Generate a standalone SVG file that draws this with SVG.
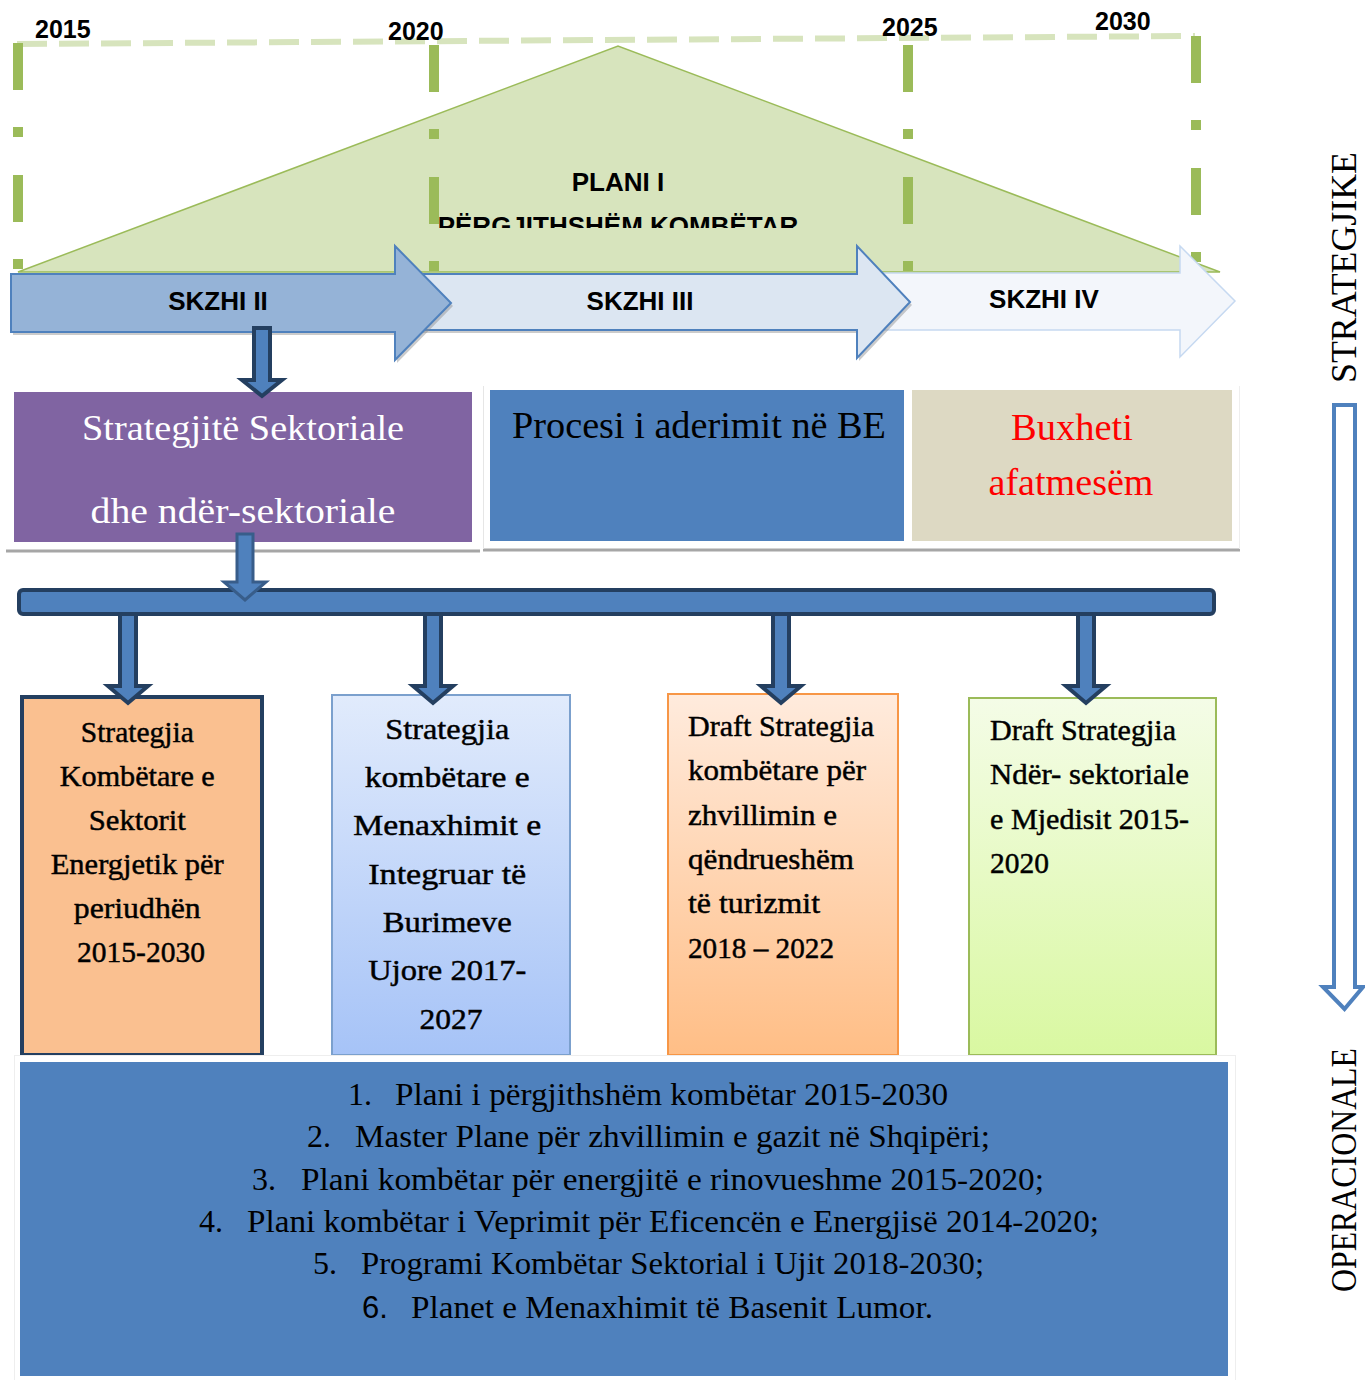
<svg xmlns="http://www.w3.org/2000/svg" width="1365" height="1380" viewBox="0 0 1365 1380">
<defs>
<style>
.yr{font-family:"Liberation Sans",Arial,sans-serif;font-weight:bold;font-size:25px;fill:#000}
.sk{font-family:"Liberation Sans",Arial,sans-serif;font-weight:bold;font-size:26px;fill:#000;text-anchor:middle}
.sf{font-family:"Liberation Serif","Times New Roman",serif}
.bx{font-family:"Liberation Serif","Times New Roman",serif;font-size:30px;fill:#000;stroke:#000;stroke-width:0.45}
.ls{font-family:"Liberation Serif","Times New Roman",serif;font-size:32px;fill:#000}
.vd{fill:none;stroke:#9BBB59;stroke-width:10;stroke-dasharray:47 37 10 38}
.dn{fill:#4F81BD;stroke:#243F60;stroke-width:4;stroke-linejoin:miter}
</style>
<linearGradient id="gB" x1="0" y1="0" x2="0" y2="1"><stop offset="0" stop-color="#E1EBFC"/><stop offset="1" stop-color="#A6C3F7"/></linearGradient>
<linearGradient id="gC" x1="0" y1="0" x2="0" y2="1"><stop offset="0" stop-color="#FFEBDD"/><stop offset="1" stop-color="#FFBE86"/></linearGradient>
<linearGradient id="gD" x1="0" y1="0" x2="0" y2="1"><stop offset="0" stop-color="#F4FCE7"/><stop offset="1" stop-color="#D9F8A1"/></linearGradient>
<clipPath id="clipPlan"><rect x="0" y="0" width="1365" height="228"/></clipPath>
</defs>
<rect width="1365" height="1380" fill="#fff"/>

<g id="timeline">
<line x1="17" y1="44" x2="1195" y2="36" stroke="#D7E4BD" stroke-width="6" stroke-dasharray="30 12"/>
</g>

<g id="plan-triangle">
<polygon points="18,272 618,46 1220,272" fill="#D7E4BD" stroke="#9BBB59" stroke-width="1.5"/>
<g clip-path="url(#clipPlan)">
<text class="sk" x="618" y="191">PLANI I</text>
<text class="sk" x="618" y="235">PËRGJITHSHËM KOMBËTAR</text>
</g>
</g>

<g id="timeline-marks">
<line class="vd" x1="18" y1="43" x2="18" y2="272"/>
<line class="vd" x1="434" y1="45" x2="434" y2="272"/>
<line class="vd" x1="908" y1="45" x2="908" y2="272"/>
<line class="vd" x1="1196" y1="36" x2="1196" y2="272"/>
<text class="yr" x="35" y="38">2015</text>
<text class="yr" x="388" y="40">2020</text>
<text class="yr" x="882" y="36">2025</text>
<text class="yr" x="1095" y="30">2030</text>
</g>

<g id="skzhi4">
<polygon points="880,273 1180,273 1180,246 1235,301 1180,357 1180,330 880,330" fill="#F3F6FB" stroke="#C6D9F1" stroke-width="1.5"/>
<text class="sk" x="1044" y="308">SKZHI IV</text>
</g>
<g id="skzhi3">
<polygon points="422,277 859,277 859,249 912,305 859,361 859,333 422,333" fill="#8C8C8C" opacity="0.45"/>
<polygon points="420,274 857,274 857,246 910,302 857,358 857,330 420,330" fill="#DCE6F2" stroke="#4F81BD" stroke-width="2"/>
<text class="sk" x="640" y="310">SKZHI III</text>
</g>
<g id="skzhi2">
<polygon points="13,277 397,277 397,249 453,306 397,363 397,335 13,335" fill="#8C8C8C" opacity="0.45"/>
<polygon points="11,274 395,274 395,246 451,303 395,360 395,332 11,332" fill="#95B3D7" stroke="#4F81BD" stroke-width="2"/>
<text class="sk" x="218" y="310">SKZHI II</text>
</g>

<g id="top-frames">
<line x1="6" y1="551" x2="480" y2="551" stroke="#A6A6A6" stroke-width="3"/>
<line x1="483" y1="550" x2="1240" y2="550" stroke="#A6A6A6" stroke-width="3"/>
<line x1="483.5" y1="386" x2="483.5" y2="549" stroke="#E6E6E6" stroke-width="1"/>
<line x1="1239.5" y1="386" x2="1239.5" y2="549" stroke="#EEEEEE" stroke-width="1"/>
</g>

<g id="box-strategjite">
<rect x="14" y="392" width="458" height="150" fill="#8064A2"/>
<text class="sf" x="243" y="440" font-size="36" fill="#fff" text-anchor="middle" textLength="322" lengthAdjust="spacingAndGlyphs">Strategjitë Sektoriale</text>
<text class="sf" x="243" y="523" font-size="36" fill="#fff" text-anchor="middle" textLength="305" lengthAdjust="spacingAndGlyphs">dhe ndër-sektoriale</text>
</g>

<g id="box-procesi">
<rect x="490" y="390" width="414" height="151" fill="#4F81BD"/>
<text class="sf" x="699" y="438" font-size="37" fill="#000" text-anchor="middle" textLength="374" lengthAdjust="spacingAndGlyphs">Procesi i aderimit në BE</text>
</g>

<g id="box-buxheti">
<rect x="912" y="390" width="320" height="151" fill="#DDD9C3"/>
<text class="sf" x="1072" y="440" font-size="37" fill="#FF0000" text-anchor="middle" textLength="122" lengthAdjust="spacingAndGlyphs">Buxheti</text>
<text class="sf" x="1071" y="495" font-size="37" fill="#FF0000" text-anchor="middle" textLength="165" lengthAdjust="spacingAndGlyphs">afatmesëm</text>
</g>

<g id="box-energji">
<rect x="22" y="697" width="240" height="358" fill="#FAC090" stroke="#243F60" stroke-width="4"/>
<text class="bx" text-anchor="middle" lengthAdjust="spacingAndGlyphs">
<tspan x="141" y="742" textLength="113" lengthAdjust="spacingAndGlyphs">Strategjia</tspan>
<tspan x="141" y="786" textLength="155" lengthAdjust="spacingAndGlyphs">Kombëtare e</tspan>
<tspan x="141" y="830" textLength="97" lengthAdjust="spacingAndGlyphs">Sektorit</tspan>
<tspan x="141" y="874" textLength="173" lengthAdjust="spacingAndGlyphs">Energjetik për</tspan>
<tspan x="141" y="918" textLength="127" lengthAdjust="spacingAndGlyphs">periudhën</tspan>
<tspan x="141" y="962" textLength="128" lengthAdjust="spacingAndGlyphs">2015-2030</tspan>
</text>
</g>

<g id="box-ujore">
<rect x="332" y="695" width="238" height="360" fill="url(#gB)" stroke="#7BA0CD" stroke-width="2"/>
<text class="bx" text-anchor="middle" font-size="32">
<tspan x="451" y="739" textLength="124" lengthAdjust="spacingAndGlyphs">Strategjia</tspan>
<tspan x="451" y="787" textLength="165" lengthAdjust="spacingAndGlyphs">kombëtare e</tspan>
<tspan x="451" y="835" textLength="188" lengthAdjust="spacingAndGlyphs">Menaxhimit e</tspan>
<tspan x="451" y="884" textLength="158" lengthAdjust="spacingAndGlyphs">Integruar të</tspan>
<tspan x="451" y="932" textLength="129" lengthAdjust="spacingAndGlyphs">Burimeve</tspan>
<tspan x="451" y="980" textLength="158" lengthAdjust="spacingAndGlyphs">Ujore 2017-</tspan>
<tspan x="451" y="1029" textLength="63" lengthAdjust="spacingAndGlyphs">2027</tspan>
</text>
</g>

<g id="box-turizem">
<rect x="668" y="694" width="230" height="361" fill="url(#gC)" stroke="#F79646" stroke-width="2"/>
<text class="bx">
<tspan x="688" y="736" textLength="186" lengthAdjust="spacingAndGlyphs">Draft Strategjia</tspan>
<tspan x="688" y="780" textLength="178" lengthAdjust="spacingAndGlyphs">kombëtare për</tspan>
<tspan x="688" y="825" textLength="149" lengthAdjust="spacingAndGlyphs">zhvillimin e</tspan>
<tspan x="688" y="869" textLength="166" lengthAdjust="spacingAndGlyphs">qëndrueshëm</tspan>
<tspan x="688" y="913" textLength="132" lengthAdjust="spacingAndGlyphs">të turizmit</tspan>
<tspan x="688" y="958" textLength="146" lengthAdjust="spacingAndGlyphs">2018 – 2022</tspan>
</text>
</g>

<g id="box-mjedis">
<rect x="969" y="698" width="247" height="357" fill="url(#gD)" stroke="#9BBB59" stroke-width="2"/>
<text class="bx">
<tspan x="990" y="740" textLength="186" lengthAdjust="spacingAndGlyphs">Draft Strategjia</tspan>
<tspan x="990" y="784" textLength="199" lengthAdjust="spacingAndGlyphs">Ndër- sektoriale</tspan>
<tspan x="990" y="829" textLength="199" lengthAdjust="spacingAndGlyphs">e Mjedisit 2015-</tspan>
<tspan x="990" y="873" textLength="59" lengthAdjust="spacingAndGlyphs">2020</tspan>
</text>
</g>

<g id="box-plans">
<rect x="14.5" y="1055.5" width="1221" height="330" fill="#fff" stroke="#EEEEEE" stroke-width="1"/>
<rect x="20" y="1062" width="1208" height="314" fill="#4F81BD"/>
<text class="ls" x="348" y="1105">1.</text><text class="ls" x="395" y="1105" textLength="553" lengthAdjust="spacingAndGlyphs">Plani i përgjithshëm kombëtar 2015-2030</text>
<text class="ls" x="307" y="1147">2.</text><text class="ls" x="355" y="1147" textLength="635" lengthAdjust="spacingAndGlyphs">Master Plane për zhvillimin e gazit në Shqipëri;</text>
<text class="ls" x="252" y="1190">3.</text><text class="ls" x="301" y="1190" textLength="743" lengthAdjust="spacingAndGlyphs">Plani kombëtar për energjitë e rinovueshme 2015-2020;</text>
<text class="ls" x="199" y="1232">4.</text><text class="ls" x="247" y="1232" textLength="852" lengthAdjust="spacingAndGlyphs">Plani kombëtar i Veprimit për Eficencën e Energjisë 2014-2020;</text>
<text class="ls" x="313" y="1274">5.</text><text class="ls" x="361" y="1274" textLength="623" lengthAdjust="spacingAndGlyphs">Programi Kombëtar Sektorial i Ujit 2018-2030;</text>
<text x="362" y="1318" font-family="Liberation Sans,Arial,sans-serif" font-size="31" fill="#000">6.</text><text class="ls" x="411" y="1318" textLength="522" lengthAdjust="spacingAndGlyphs">Planet e Menaxhimit të Basenit Lumor.</text>
</g>

<g id="connectors">
<polygon class="dn" points="254,328 270,328 270,380 282,380 262,396 242,380 254,380"/>
<polygon class="dn" points="120,612 136,612 136,686 148,686 128,703 108,686 120,686"/>
<polygon class="dn" points="425,612 441,612 441,686 453,686 433,703 413,686 425,686"/>
<polygon class="dn" points="773,612 789,612 789,686 801,686 781,703 761,686 773,686"/>
<polygon class="dn" points="1078,612 1094,612 1094,686 1106,686 1086,703 1066,686 1078,686"/>
<rect x="19" y="590" width="1195" height="24" rx="4" fill="#4F81BD" stroke="#243F60" stroke-width="4"/>
<polygon points="237,534 253,534 253,582 266,582 245,600 224,582 237,582" fill="#4F81BD" stroke="#385D8A" stroke-width="3"/>
</g>

<g id="axis">
<text class="sf" transform="translate(1356,383) rotate(-90)" font-size="36" fill="#000" textLength="231" lengthAdjust="spacingAndGlyphs">STRATEGJIKE</text>
<polygon points="1334,405 1355,405 1355,987 1363,987 1344.5,1009 1323,987 1334,987" fill="#fff" stroke="#4F81BD" stroke-width="4"/>
<text class="sf" transform="translate(1356,1292) rotate(-90)" font-size="36" fill="#000" textLength="244" lengthAdjust="spacingAndGlyphs">OPERACIONALE</text>
</g>
</svg>
